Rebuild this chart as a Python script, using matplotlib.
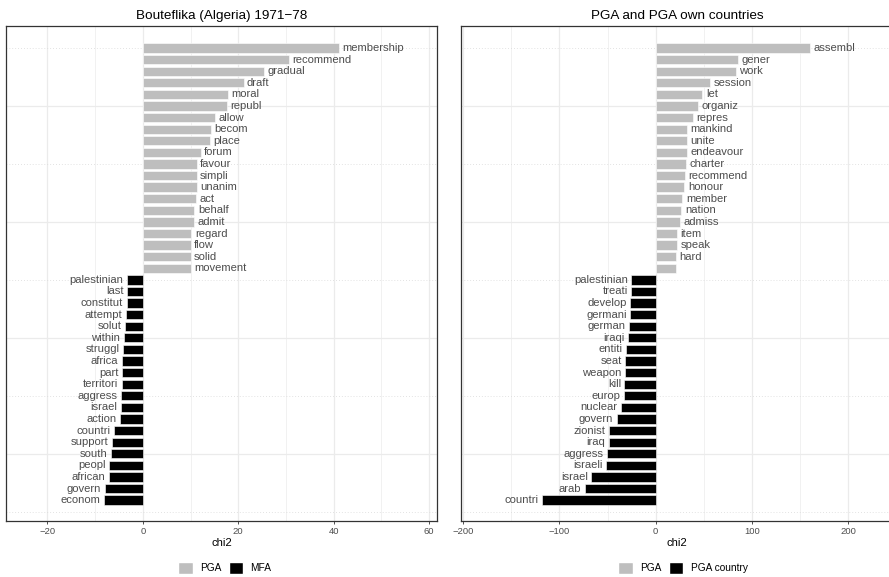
import matplotlib
matplotlib.use('Agg')
import matplotlib.pyplot as plt
from matplotlib.patches import Patch

plt.rcParams['font.family'] = ['Liberation Sans', 'DejaVu Sans']

# Bouteflika (Algeria) 1971-78: PGA vs MFA
left_pos_words = ['membership', 'recommend', 'gradual', 'draft', 'moral', 'republ', 'allow',
                  'becom', 'place', 'forum', 'favour', 'simpli', 'unanim', 'act', 'behalf',
                  'admit', 'regard', 'flow', 'solid', 'movement']
left_pos_vals = [41.1, 30.6, 25.4, 21.1, 17.8, 17.6, 15.1, 14.3, 14.0, 12.1,
                 11.3, 11.3, 11.25, 11.1, 10.8, 10.8, 10.2, 10.0, 10.0, 10.0]
left_neg_words = ['palestinian', 'last', 'constitut', 'attempt', 'solut', 'within', 'struggl',
                  'africa', 'part', 'territori', 'aggress', 'israel', 'action', 'countri',
                  'support', 'south', 'peopl', 'african', 'govern', 'econom']
left_neg_vals = [-3.3, -3.3, -3.4, -3.6, -3.7, -4.0, -4.2, -4.4, -4.4, -4.4,
                 -4.5, -4.6, -4.8, -6.1, -6.4, -6.6, -7.0, -7.1, -8.0, -8.1]

# PGA vs PGA own countries
right_pos_words = ['assembl', 'gener', 'work', 'session', 'let', 'organiz', 'repres', 'mankind',
                   'unite', 'endeavour', 'charter', 'recommend', 'honour', 'member', 'nation',
                   'admiss', 'item', 'speak', 'hard', '']
right_pos_vals = [160.2, 85.1, 83.0, 56.4, 48.4, 44.3, 38.4, 32.5, 32.5, 32.5,
                  31.8, 30.1, 29.8, 27.7, 26.6, 25.6, 22.1, 22.1, 21.1, 20.8]
right_neg_words = ['palestinian', 'treati', 'develop', 'germani', 'german', 'iraqi', 'entiti',
                   'seat', 'weapon', 'kill', 'europ', 'nuclear', 'govern', 'zionist', 'iraq',
                   'aggress', 'israeli', 'israel', 'arab', 'countri']
right_neg_vals = [-25.3, -25.6, -26.3, -26.6, -27.3, -29.1, -30.8, -31.5, -31.8, -32.5,
                  -33.2, -36.3, -40.5, -48.4, -48.8, -50.5, -51.9, -67.1, -73.7, -118.3]

GRAY = '#bebebe'
TXT = '#4d4d4d'


def keyness(ax, pos_words, pos_vals, neg_words, neg_vals, title, xlim, xticks, minor):
    n = len(pos_vals) + len(neg_vals)
    pos_y = list(range(n, n - len(pos_vals), -1))
    neg_y = list(range(len(neg_vals), 0, -1))

    ax.barh(pos_y, pos_vals, height=0.8, color=GRAY, edgecolor='white', linewidth=0.4, zorder=2)
    ax.barh(neg_y, neg_vals, height=0.8, color='black', edgecolor='white', linewidth=0.4, zorder=2)

    for y, v, w in zip(pos_y, pos_vals, pos_words):
        ax.annotate(w, (v, y), xytext=(2.5, 0), textcoords='offset points',
                    ha='left', va='center', fontsize=8.1, color=TXT, zorder=3)
    for y, v, w in zip(neg_y, neg_vals, neg_words):
        ax.annotate(w, (v, y), xytext=(-2.5, 0), textcoords='offset points',
                    ha='right', va='center', fontsize=8.1, color=TXT, zorder=3)

    ax.set_xlim(*xlim)
    ax.set_ylim(-0.8, 41.9)
    ax.set_xticks(xticks)
    ax.set_xticklabels([str(t).replace('-', '\u2212') for t in xticks])
    ax.set_xticks(minor, minor=True)
    ax.set_yticks([0, 10, 20, 30, 40])
    ax.set_yticks([5, 15, 25, 35], minor=True)
    ax.tick_params(axis='x', which='major', length=2.5, width=0.6, color='#333333',
                   labelsize=6.8, labelcolor=TXT, pad=1.5)
    ax.tick_params(axis='x', which='minor', length=0)
    ax.tick_params(axis='y', which='both', length=0, labelleft=False)

    ax.grid(True, axis='x', which='major', color='#ebebeb', linewidth=0.9, zorder=0)
    ax.grid(True, axis='x', which='minor', color='#ebebeb', linewidth=0.5, zorder=0)
    ax.grid(True, axis='y', which='major', color='#d9d9d9', linewidth=0.6, linestyle=(0, (1, 2.5)), zorder=0)
    ax.grid(True, axis='y', which='minor', color='#ebebeb', linewidth=0.9, zorder=0)
    ax.set_axisbelow(True)

    for s in ax.spines.values():
        s.set_color('#333333')
        s.set_linewidth(0.9)

    ax.set_title(title, fontsize=9.7, pad=5)
    ax.set_xlabel('chi2', fontsize=8.1, labelpad=2)


fig = plt.figure(figsize=(8.89, 5.77), dpi=100)
ax1 = fig.add_axes([6.3 / 889, 1 - 521 / 577, 431 / 889, 495 / 577])
ax2 = fig.add_axes([460.7 / 889, 1 - 521 / 577, 433 / 889, 495 / 577])

keyness(ax1, left_pos_words, left_pos_vals, left_neg_words, left_neg_vals,
        'Bouteflika (Algeria) 1971\u221278', (-28.6, 61.7), [-20, 0, 20, 40, 60], [-10, 10, 30, 50])
keyness(ax2, right_pos_words, right_pos_vals, right_neg_words, right_neg_vals,
        'PGA and PGA own countries', (-202.5, 247.1), [-200, -100, 0, 100, 200], [-150, -50, 50, 150])

for ax, labels, cx in [(ax1, ['PGA', 'MFA'], 225 / 889), (ax2, ['PGA', 'PGA country'], 683 / 889)]:
    handles = [Patch(facecolor=GRAY, edgecolor='white'), Patch(facecolor='black', edgecolor='white')]
    fig.legend(handles, labels, loc='center', bbox_to_anchor=(cx, 1 - 568 / 577), ncol=2,
               frameon=False, fontsize=7.3, handlelength=1.4, handleheight=1.4,
               handletextpad=0.75, columnspacing=0.7, borderaxespad=0)

fig.savefig('out.png', dpi=100)
